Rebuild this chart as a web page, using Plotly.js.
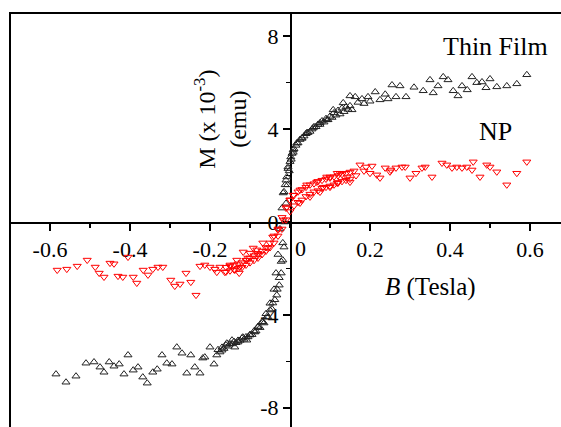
<!DOCTYPE html>
<html>
<head>
<meta charset="utf-8">
<script src="https://cdn.plot.ly/plotly-3.0.1.min.js"></script>
<style>
html, body { margin: 0; padding: 0; overflow: hidden; background: #fff; }
#chart { width: 580px; height: 440px; }
</style>
</head>
<body>
<div id="chart"></div>
<script>
// Thin Film (black, up triangles): B (Tesla), M (x10^-3 emu)
const filmB = [
  0.255,0.275,0.265,0.29,0.31,0.333,0.358,0.35,0.383,0.37,0.395,0.408,0.42,0.43,0.443,0.455,0.467,0.48,0.49,0.5,0.517,0.542,0.567,0.592,
  0.15,0.163,0.18,0.195,0.213,0.225,0.155,0.133,0.108,0.2,0.238,0.245,0.17,0.185,
  -0.585,-0.56,-0.535,-0.51,-0.49,-0.475,-0.465,-0.452,-0.44,-0.427,-0.415,-0.405,-0.392,-0.38,-0.368,-0.357,-0.343,-0.332,-0.32,-0.308,-0.295,-0.283,-0.27,-0.258,-0.248,-0.238,-0.225,-0.213,-0.2,-0.19,
  -0.218,-0.183,-0.17,-0.158,-0.145,-0.138,-0.13,-0.118,-0.108,-0.1,-0.088,-0.08,-0.068,-0.058,-0.05,-0.043,-0.033,-0.027,-0.022,-0.018,-0.015,
  -0.017,-0.012,-0.008,-0.005,0.002,0.008,0.017,0.03,0.042,0.058,0.075,0.092,
  0.15,0.14,0.13,0.12,0.11,0.10,0.09,0.08,0.07,0.06,0.05,0.04,0.03,0.02,0.01,0.005,0,-0.005,-0.01,-0.015,-0.02,-0.025,-0.03,-0.035,-0.04,-0.05,-0.06,-0.07,-0.08,-0.09,-0.10,-0.11,-0.12,-0.13,-0.14,-0.15,-0.16,-0.17,-0.18,
  -0.175,-0.165,-0.155,-0.145,-0.135,-0.125,-0.115,-0.105,-0.095,-0.085,-0.075,-0.065,-0.055,-0.045,-0.038,-0.032,-0.027,-0.022,-0.018,-0.014,-0.01,-0.006,-0.002,0.003,0.008,0.015,0.025,0.035,0.045,0.055,0.065,0.075,0.085,0.095,0.105,0.115,0.125,0.135,0.145
];
const filmM = [
  5.9,5.86,5.39,5.39,5.8,5.65,5.56,6.12,6.25,5.86,6.12,5.65,5.43,5.86,5.69,6.25,6.0,6.03,5.78,6.16,5.82,5.86,5.95,6.34,
  5.43,5.39,5.3,5.39,5.6,5.26,4.83,5.13,4.83,5.2,5.5,5.3,5.15,5.1,
  -6.55,-6.9,-6.64,-6.08,-6.03,-6.25,-6.47,-6.03,-6.21,-6.12,-6.55,-5.73,-6.38,-6.25,-6.68,-6.94,-6.47,-6.34,-5.73,-6.08,-6.12,-5.39,-5.65,-6.51,-5.73,-6.25,-6.51,-5.82,-5.39,-6.12,
  -5.86,-5.73,-5.52,-5.22,-5.09,-5.39,-5.17,-4.96,-5.09,-4.87,-4.74,-4.53,-4.31,-4.09,-3.79,-3.49,-3.15,-2.72,-2.2,-1.64,-1.08,
  1.25,1.6,1.94,2.37,2.8,3.1,3.4,3.62,3.84,4.05,4.27,4.4,
  5.0,4.95,4.9,4.8,4.7,4.55,4.45,4.35,4.2,4.1,3.9,3.8,3.6,3.4,3.15,2.95,2.6,2.3,1.8,1.3,0.6,-0.3,-1.4,-2.2,-2.9,-3.5,-3.95,-4.3,-4.5,-4.7,-4.85,-4.95,-5.0,-5.1,-5.15,-5.25,-5.3,-5.4,-5.5,
  -5.6,-5.45,-5.35,-5.25,-5.2,-5.1,-5.05,-4.95,-4.85,-4.7,-4.55,-4.35,-4.1,-3.75,-3.35,-2.9,-2.4,-1.7,-0.9,0,0.8,1.6,2.2,2.7,3.0,3.3,3.55,3.7,3.85,4.0,4.1,4.2,4.3,4.4,4.5,4.6,4.65,4.75,4.85
];

// NP (red, down triangles)
const npB = [
  0.175,0.19,0.2,0.217,0.238,0.252,0.265,0.28,0.3,0.315,0.338,0.355,0.38,0.392,0.405,0.417,0.43,0.442,0.455,0.475,0.492,0.517,0.542,0.567,0.592,
  0.458,0.5,0.205,0.225,0.25,0.288,0.33,0.143,0.125,0.1,0.15,0.118,0.083,0.165,0.185,
  -0.582,-0.558,-0.532,-0.507,-0.487,-0.477,-0.465,-0.45,-0.44,-0.43,-0.418,-0.405,-0.392,-0.383,-0.367,-0.355,-0.343,-0.33,-0.318,-0.298,-0.288,-0.275,-0.26,-0.248,-0.235,-0.225,-0.213,-0.2,-0.188,-0.175,-0.163,-0.15,-0.138,-0.127,-0.117,-0.105,-0.092,-0.08,-0.068,-0.055,-0.043,-0.03,-0.017,
  -0.183,-0.133,-0.1,-0.083,-0.125,-0.108,
  -0.008,0.0,0.008,0.025,0.042,0.067,0.092,0.118,0.025,0.05,0.075,0.1,0.12,
  0.16,0.15,0.14,0.13,0.12,0.11,0.10,0.09,0.08,0.07,0.06,0.05,0.04,0.03,0.02,0.01,0.0,-0.01,-0.02,-0.03,-0.04,-0.05,-0.06,-0.07,-0.08,-0.09,-0.10,-0.11,-0.12,-0.13,-0.14,-0.15,-0.16,
  -0.16,-0.15,-0.14,-0.13,-0.12,-0.11,-0.10,-0.09,-0.08,-0.07,-0.06,-0.05,-0.04,-0.03,-0.02,-0.01,0.0,0.01,0.02,0.03,0.04,0.05,0.06,0.07,0.08,0.09,0.10,0.11,0.12,0.13,0.14,0.15
];
const npM = [
  2.46,2.37,2.1,2.03,2.33,2.24,2.33,2.37,1.9,2.1,2.37,1.94,2.54,2.46,2.33,2.37,2.33,2.37,2.24,1.94,2.46,2.16,1.6,2.1,2.59,
  2.59,2.37,2.41,1.9,2.16,2.37,2.33,1.94,2.1,1.94,1.72,1.68,1.5,2.0,2.2,
  -2.07,-2.03,-1.9,-1.64,-1.94,-2.2,-2.37,-1.77,-1.8,-2.33,-2.37,-1.51,-2.37,-2.63,-2.07,-2.28,-2.03,-1.94,-1.94,-2.5,-2.76,-2.67,-2.2,-2.59,-3.15,-1.9,-1.85,-1.94,-2.03,-1.94,-2.16,-1.85,-2.07,-2.2,-1.29,-1.55,-1.12,-1.42,-0.9,-1.12,-0.65,-0.34,0.09,
  -2.16,-1.64,-1.34,-1.2,-1.94,-1.64,
  0.65,0.95,1.16,1.38,1.6,1.72,1.94,2.1,0.82,1.08,1.29,1.5,1.68,
  2.2,2.15,2.1,2.05,2.0,1.95,1.9,1.85,1.8,1.75,1.65,1.6,1.5,1.4,1.3,1.15,0.95,0.6,0.2,-0.3,-0.6,-0.9,-1.1,-1.25,-1.35,-1.45,-1.55,-1.65,-1.75,-1.8,-1.85,-1.9,-1.95,
  -2.15,-2.1,-2.05,-2.0,-1.95,-1.85,-1.75,-1.65,-1.55,-1.4,-1.25,-1.1,-0.9,-0.6,-0.3,0.1,0.45,0.7,0.85,0.95,1.1,1.2,1.3,1.35,1.45,1.5,1.55,1.6,1.7,1.75,1.8,1.85
];

const xTickVals = [-0.6, -0.4, -0.2, 0.2, 0.4, 0.6];
const xTickText = ['-0.6', '-0.4', '-0.2', '0.2', '0.4', '0.6'];
const yTickVals = [-8, -4, 0, 4, 8];
const yTickText = ['-8', '-4', '0', '4', '8'];

const FONT = '"Liberation Serif", "Times New Roman", Times, serif';

const traces = [
  {
    x: filmB, y: filmM, type: 'scatter', mode: 'markers', name: 'Thin Film',
    marker: { symbol: 'triangle-up-open', size: 7, color: '#222', line: { width: 1, color: '#222' } }
  },
  {
    x: npB, y: npM, type: 'scatter', mode: 'markers', name: 'NP',
    marker: { symbol: 'triangle-down-open', size: 7, color: '#ff0000', line: { width: 1, color: '#ff0000' } }
  }
];

const axisCommon = {
  showgrid: false, zeroline: false, showline: true, linecolor: '#000', linewidth: 1.5,
  ticks: 'outside', tickcolor: '#000', tickwidth: 1.5, ticklen: 7,
  tickfont: { family: FONT, size: 22, color: '#000' },
  anchor: 'free', position: 0.5, layer: 'below traces', fixedrange: true
};

const layout = {
  width: 580, height: 440,
  margin: { l: 10, r: 10, t: 13, b: 9 },
  font: { family: FONT, color: '#000' },
  paper_bgcolor: '#fff', plot_bgcolor: '#fff',
  showlegend: false,
  xaxis: Object.assign({}, axisCommon, {
    range: [-0.7, 0.7], tickmode: 'array', tickvals: xTickVals, ticktext: xTickText,
    minor: { dtick: 0.1, tick0: 0, ticks: 'outside', ticklen: 4, tickwidth: 1.5, tickcolor: '#000' }
  }),
  yaxis: Object.assign({}, axisCommon, {
    range: [-9, 9], tickmode: 'array', tickvals: yTickVals, ticktext: yTickText,
    minor: { dtick: 2, tick0: 0, ticks: 'outside', ticklen: 4, tickwidth: 1.5, tickcolor: '#000' }
  }),
  shapes: [
    { type: 'rect', xref: 'paper', yref: 'paper', x0: 0, x1: 1, y0: 0, y1: 1,
      line: { color: '#000', width: 2 }, layer: 'above' }
  ],
  annotations: [
    { text: 'Thin Film', x: 0.5125, y: 7.54, xref: 'x', yref: 'y', showarrow: false,
      font: { family: FONT, size: 26, color: '#000' } },
    { text: 'NP', x: 0.5125, y: 3.88, xref: 'x', yref: 'y', showarrow: false,
      font: { family: FONT, size: 26, color: '#000' } },
    { text: '<i>B</i> (Tesla)', x: 0.35, y: -2.8, xref: 'x', yref: 'y', showarrow: false,
      font: { family: FONT, size: 25, color: '#000' } },
    { text: 'M (x 10<sup>-3</sup>)<br>(emu)', x: -0.1725, y: 4.4, xref: 'x', yref: 'y', showarrow: false,
      textangle: -90, font: { family: FONT, size: 24, color: '#000' } },
    { text: '0', x: 0.025, y: -1.12, xref: 'x', yref: 'y', showarrow: false,
      font: { family: FONT, size: 22, color: '#000' } }
  ]
};

Plotly.newPlot('chart', traces, layout, { displayModeBar: false, staticPlot: true });
</script>
</body>
</html>
